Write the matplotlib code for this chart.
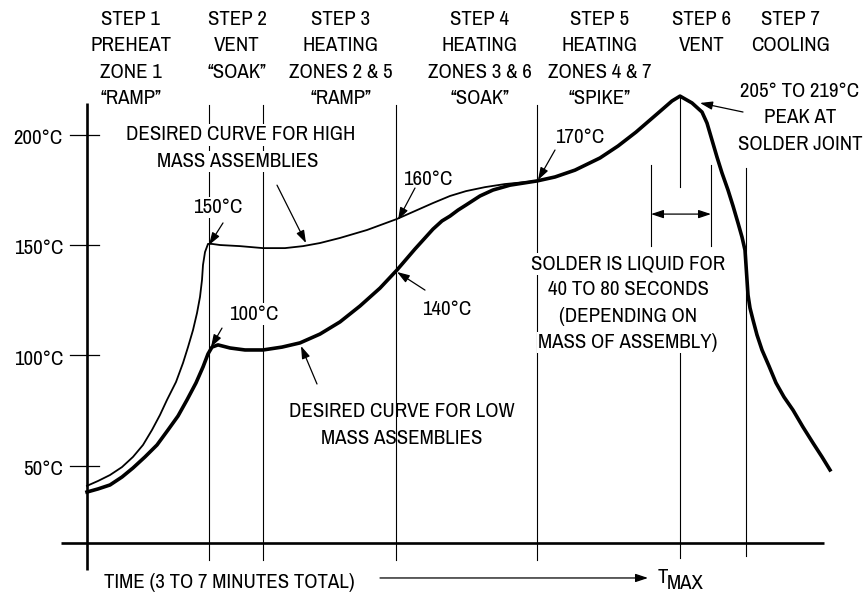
import matplotlib.pyplot as plt

plt.rcParams['font.family'] = ['Archivo Narrow', 'Liberation Sans', 'DejaVu Sans']

# ---------------- DATA ----------------
# time in arbitrary units (0 = start of profile), temperature in degC
low_time = [0.0, 1.1, 2.3, 3.5, 4.6, 5.8, 7.0, 8.1, 9.1, 10.0, 10.9, 11.6, 12.1,
            12.5, 13.1, 14.3, 15.8, 17.6, 19.5, 21.3, 23.3, 25.3, 27.3, 29.3,
            31.0, 32.8, 33.7, 34.6, 35.5, 36.3, 37.1, 37.9, 39.3, 40.6, 42.3,
            45.0, 46.8, 48.8, 51.3, 53.1, 54.9, 57.1, 58.5, 59.3, 60.5, 61.5,
            62.0, 62.5, 63.0, 63.5, 64.1, 64.6, 65.1, 65.5, 65.8, 65.9, 66.0,
            66.1, 66.3, 66.6, 67.0, 67.5, 68.2, 68.9, 69.7, 70.6, 71.6, 72.6,
            73.5, 74.3]
low_temp = [38.2, 39.6, 41.4, 45.0, 49.1, 54.1, 59.5, 66.3, 72.6, 79.9, 87.6,
            94.8, 100.7, 103.8, 104.8, 103.4, 102.5, 102.5, 103.8, 105.7, 109.7,
            115.2, 122.4, 130.5, 138.7, 148.2, 152.7, 157.2, 160.9, 163.1, 165.8,
            168.1, 172.2, 174.9, 177.1, 179.0, 180.8, 183.9, 189.4, 194.8, 201.1,
            209.7, 215.2, 217.4, 214.3, 210.2, 205.2, 197.5, 189.8, 182.6, 174.9,
            167.7, 160.0, 153.6, 147.7, 141.0, 134.2, 127.4, 121.5, 116.1, 109.3,
            102.5, 95.2, 87.6, 81.2, 75.3, 67.6, 60.4, 54.1, 48.2]

high_time = [0.0, 1.1, 2.3, 3.5, 4.6, 5.6, 6.5, 7.3, 8.0, 8.9, 9.6, 10.1, 10.6,
             11.0, 11.3, 11.5, 11.6, 11.8, 12.1, 12.5, 13.3, 15.3, 17.6, 19.8,
             21.6, 23.3, 25.3, 28.0, 31.0, 32.8, 34.6, 36.3, 37.9, 39.8, 41.8,
             45.0]
high_temp = [41.0, 43.2, 45.9, 49.5, 54.1, 59.5, 66.3, 73.1, 79.9, 88.0, 96.6,
             103.8, 111.5, 119.2, 126.5, 134.2, 141.0, 146.8, 150.5, 150.5, 150.0,
             149.5, 148.6, 148.6, 149.5, 150.9, 153.2, 156.8, 161.8, 165.4, 169.0,
             172.2, 174.4, 176.2, 177.6, 179.0]

temp_ticks = [50, 100, 150, 200]
tick_labels = ['50°C', '100°C', '150°C', '200°C']

step_labels = [
    ['STEP 1', 'PREHEAT', 'ZONE 1', '“RAMP”'],
    ['STEP 2', 'VENT', '“SOAK”'],
    ['STEP 3', 'HEATING', 'ZONES 2 & 5', '“RAMP”'],
    ['STEP 4', 'HEATING', 'ZONES 3 & 6', '“SOAK”'],
    ['STEP 5', 'HEATING', 'ZONES 4 & 7', '“SPIKE”'],
    ['STEP 6', 'VENT'],
    ['STEP 7', 'COOLING'],
]
step_centers = [4.4, 15.0, 25.4, 39.3, 51.3, 61.5, 70.4]

zone_bounds = [12.2, 17.6, 30.9, 45.0]   # vertical step boundaries
t_max = 59.3
cool_start = 65.9
liquid_start, liquid_end = 56.4, 62.4

FS = 15
LINE = 11.9   # line pitch in degC units

def put_lines(x, y0, lines, **kw):
    for i, s in enumerate(lines):
        ax.text(x, y0 - i * LINE, s, ha='center', va='baseline', fontsize=FS, **kw)

def arrow(x0, y0, x1, y1):
    ax.annotate('', xy=(x1, y1), xytext=(x0, y0),
                arrowprops=dict(arrowstyle='-|>,head_length=0.75,head_width=0.25',
                                color='black', lw=0.9, shrinkA=0, shrinkB=0,
                                mutation_scale=10), zorder=6)

# ---------------- PLOT ----------------
fig = plt.figure(figsize=(8.66, 5.93), dpi=100)
ax = fig.add_axes([0, 0, 1, 1])
ax.set_xlim(-8.7, 77.9)
ax.set_ylim(-7.5, 260.9)
ax.axis('off')

# axes
ax.plot([0, 0], [2.9, 214.3], color='black', lw=1.9, solid_capstyle='butt')
ax.plot([-2.6, 73.7], [15.2, 15.2], color='black', lw=1.9, solid_capstyle='butt')
for T, lab in zip(temp_ticks, tick_labels):
    ax.plot([-1.7, 1.2], [T, T], color='black', lw=0.9)
    ax.text(-2.4, T - 4.1, lab, ha='right', va='baseline', fontsize=FS)

# step boundaries
for x in zone_bounds:
    ax.plot([x, x], [7.5, 213.3], color='black', lw=0.8, zorder=1)
ax.plot([t_max, t_max], [8.4, 101.1], color='black', lw=0.8, zorder=1)
ax.plot([t_max, t_max], [176.2, 217.4], color='black', lw=0.8, zorder=1)
ax.plot([cool_start, cool_start], [9.3, 184.8], color='black', lw=0.8, zorder=1)

# liquid time window
for x in [liquid_start, liquid_end]:
    ax.plot([x, x], [149.5, 186.2], color='black', lw=0.8)
ax.annotate('', xy=(liquid_start, 164.0), xytext=(liquid_end, 164.0),
            arrowprops=dict(arrowstyle='<|-|>,head_length=0.75,head_width=0.25',
                            color='black', lw=0.9, shrinkA=0, shrinkB=0,
                            mutation_scale=10))

# curves
ax.plot(high_time, high_temp, color='black', lw=1.3, zorder=4, solid_joinstyle='round')
ax.plot(low_time, low_temp, color='black', lw=2.6, zorder=5, solid_joinstyle='round')

# step headers
for x, lines in zip(step_centers, step_labels):
    put_lines(x, 249.5, lines)

white = dict(facecolor='white', edgecolor='none', pad=1)

# callouts
ax.text(15.4, 197.5, 'DESIRED CURVE FOR HIGH', ha='center', va='baseline', fontsize=FS, bbox=white)
ax.text(15.1, 185.3, 'MASS ASSEMBLIES', ha='center', va='baseline', fontsize=FS, bbox=white)
arrow(19.0, 177.1, 21.9, 150.9)

ax.text(13.1, 164.5, '150°C', ha='center', va='baseline', fontsize=FS, bbox=white)
arrow(13.6, 160.0, 12.2, 150.0)

ax.text(16.7, 116.1, '100°C', ha='center', va='baseline', fontsize=FS, bbox=white)
arrow(13.5, 112.4, 12.4, 103.8)

ax.text(34.1, 177.1, '160°C', ha='center', va='baseline', fontsize=FS)
arrow(32.8, 175.8, 31.1, 161.3)

ax.text(36.0, 118.3, '140°C', ha='center', va='baseline', fontsize=FS)
arrow(33.8, 129.6, 31.0, 137.8)

ax.text(49.3, 196.1, '170°C', ha='center', va='baseline', fontsize=FS)
arrow(46.8, 193.0, 45.1, 179.4)

ax.text(31.5, 72.2, 'DESIRED CURVE FOR LOW', ha='center', va='baseline', fontsize=FS)
ax.text(31.5, 60.0, 'MASS ASSEMBLIES', ha='center', va='baseline', fontsize=FS)
arrow(23.0, 87.1, 21.4, 104.3)

put_lines(71.3, 217.0, ['205° TO 219°C', 'PEAK AT', 'SOLDER JOINT'])
arrow(65.6, 210.2, 61.3, 214.3)

for i, s in enumerate(['SOLDER IS LIQUID FOR', '40 TO 80 SECONDS',
                       '(DEPENDING ON', 'MASS OF ASSEMBLY)']):
    ax.text(54.1, 139.1 - i * LINE, s, ha='center', va='baseline', fontsize=FS, bbox=white)

# time axis label
ax.text(14.25, -5.2, 'TIME (3 TO 7 MINUTES TOTAL)', ha='center', va='baseline', fontsize=FS)
ax.annotate('', xy=(56.1, -0.7), xytext=(29.3, -0.7),
            arrowprops=dict(arrowstyle='-|>,head_length=0.75,head_width=0.25',
                            color='black', lw=0.9, shrinkA=0, shrinkB=0,
                            mutation_scale=10))
ax.text(57.1, -2.9, 'T', ha='left', va='baseline', fontsize=FS)
ax.text(58.0, -5.7, 'MAX', ha='left', va='baseline', fontsize=FS)

fig.savefig('out.png', dpi=100, facecolor='white')
